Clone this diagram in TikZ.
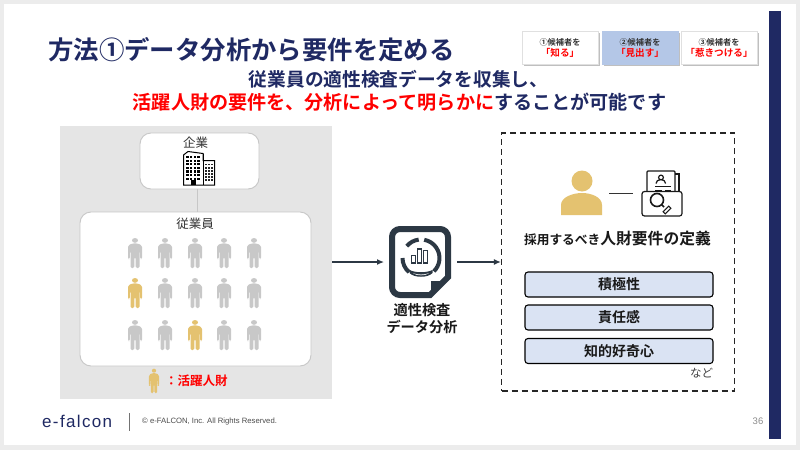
\documentclass[tikz,border=0pt]{standalone}
\usepackage{fontspec}
\setmainfont{Noto Sans CJK JP}
\newfontfamily\jb{Noto Sans CJK JP Bold}
\newfontfamily\lat{Liberation Sans}
\usetikzlibrary{arrows.meta}
\definecolor{navy}{RGB}{31,41,99}
\definecolor{pgray}{RGB}{200,200,200}
\definecolor{pgold}{RGB}{228,194,112}
\definecolor{iconc}{RGB}{44,56,68}
\definecolor{panel}{RGB}{229,229,229}
\definecolor{outer}{RGB}{236,236,236}
\definecolor{lblue}{RGB}{218,227,243}
\definecolor{tabblue}{RGB}{180,199,231}
\newcommand{\fs}[1]{\fontsize{#1}{#1}\selectfont}
\tikzset{
 x=1pt,y=-1pt,
 card/.style={draw=black!22,line width=.9pt,fill=white,rounded corners=11pt},
 tab/.style={fill=white,draw=black!12,line width=.5pt,minimum width=76pt,minimum height=33pt,inner sep=0pt,align=center,
   preaction={draw=none,fill=black!25,transform canvas={shift={(1.5pt,-1.5pt)}}}},
 req/.style={draw=black,line width=1.1pt,fill=lblue,rounded corners=3pt,minimum width=188pt,minimum height=25pt,inner sep=0pt,font=\jb\fs{14},text=black!90},
 flow/.style={draw=iconc,line width=1.3pt,-{Latex[length=7pt,width=6pt]}},
 txt/.style={inner sep=0pt,align=center},
 person/.pic={
   \fill[pic actions] (0,-12.6) ellipse (3pt and 2.4pt);
   \fill[pic actions] [rounded corners=1.5pt] (-2.5,-9.6) -- (2.5,-9.6) -- (7,-7.5) -- (7,6) -- (5.2,6) -- (5,-2) -- (4.5,-2) -- (4.5,15) -- (0.6,15) -- (0.6,4) -- (-.6,4) -- (-.6,15) -- (-4.5,15) -- (-4.5,-2) -- (-5,-2) -- (-5.2,6) -- (-7,6) -- (-7,-7.5) -- cycle;
 }
}
\begin{document}
\begin{tikzpicture}
\useasboundingbox (0,0) rectangle (800,450);
\fill[outer] (0,0) rectangle (800,450);
\fill[white] (4,4) rectangle (796,445);
\fill[navy] (769,11) rectangle (781,439);
% title
\node[txt,anchor=west,text=navy,font=\jb\fs{25.4}] (title) at (48,50) {方法①データ分析から要件を定める};
\node[txt,text=navy,font=\jb\fs{18.7}] (sub1) at (398.5,79) {従業員の適性検査データを収集し、};
\node[txt,font=\jb\fs{19.1},text=navy] (sub2) at (399.5,102) {\textcolor{red}{活躍人財の要件を、分析によって明らかに}することが可能です};
% tabs
\node[tab] (t1) at (560,47.5) {{\jb\fs{8.2}\textcolor{black!80}{①候補者を}}\\[-1pt]{\jb\fs{9.6}\textcolor{red}{「知る」}}};
\node[tab,fill=tabblue,draw=tabblue] (t2) at (640,47.5) {{\jb\fs{8.2}\textcolor{black!80}{②候補者を}}\\[-1pt]{\jb\fs{9.6}\textcolor{red}{「見出す」}}};
\node[tab] (t3) at (719,47.5) {{\jb\fs{8.2}\textcolor{black!80}{③候補者を}}\\[-1pt]{\jb\fs{9.6}\textcolor{red}{「惹きつける」}}};
% left panel
\fill[panel] (60,126) rectangle (332,399);
\node[card,minimum width=119pt,minimum height=56pt,inner sep=0pt] (co) at (199.5,161) {};
\node[card,minimum width=231pt,minimum height=154pt,inner sep=0pt] (emp) at (195.5,289) {};
\coordinate (jn) at (197,200);
\draw[black!22,line width=.9pt] (jn |- co.south) -- (jn |- emp.north);
\node[txt,font=\fs{12.5},text=black!80] (cot) at (195.5,142.5) {企業};
\node[txt,font=\fs{12.5},text=black!80] (empt) at (195,224) {従業員};
% building
\draw[black,fill=white,line width=1pt] (183.5,155) -- (183.5,185) -- (214.5,185) -- (214.5,160.5) -- (203,160.5) -- (203,153.5) -- (188,151.5) -- cycle;
\draw[black,line width=1pt] (203,153.5) -- (203,185);
\foreach \xx in {186.3,190,193.7,197.4} \foreach \yy in {156,159.6,163.2,166.8,170.4,174,177.6}{\fill[black] (\xx,\yy) rectangle +(2.4,2.2);}
\foreach \xx in {205.3,208.2,211.1} \foreach \yy in {163.5,166.6,169.7,172.8,175.9,179}{\fill[black!85] (\xx,\yy) rectangle +(1.9,1.9);}
\fill[black] (190.5,180) rectangle (196,185);
% people
\foreach \c/\xx/\yy in {pgray/135/253,pgray/165/253,pgray/195/253,pgray/224/253,pgray/254/253,
 pgold/135/293,pgray/165/293,pgray/195/293,pgray/224/293,pgray/254/293,
 pgray/135/335,pgray/165/335,pgold/195/335,pgray/224/335,pgray/254/335}{
 \pic[fill=\c] at (\xx,\yy) {person};
}
\pic[fill=pgold,xscale=.72,yscale=.82] at (154,381) {person};
\node[txt,anchor=west,text=red,font=\jb\fs{12.5}] (lg) at (165,381) {：活躍人財};
% middle icon
\coordinate (a1) at (332,262);
\draw[iconc,line width=6pt,fill=white,rounded corners=8pt] (392,229) -- (448,229) [sharp corners] -- (448,277) -- (430,295) [rounded corners=8pt] -- (392,295) -- cycle;
\node[minimum width=62pt,minimum height=72pt,inner sep=0pt] (ic) at (420,262) {};
\fill[iconc] (431,281) -- (446,281) -- (431,296) -- cycle;
\draw[iconc,line width=4pt] (402.5,258) arc (-180:-230:18.5);
\draw[iconc,line width=4pt] (406.8,246.1) arc (-140:-97:18.5);
\draw[iconc,line width=4pt] (424.2,239.8) arc (-80:46:18.5);
\draw[iconc,line width=1.1pt] (411.5,255.5) rectangle (415.5,263);
\draw[iconc,line width=1.1pt] (417.5,249) rectangle (421.5,263);
\draw[iconc,line width=1.1pt] (423.5,250.5) rectangle (427.5,263);
\fill[iconc] (409.5,270) .. controls (416,273) and (426,273) .. (432.5,270) -- (432.5,273) .. controls (428,278) and (414,278) .. (409.5,273) -- cycle;
\fill[white] (413,273.2) .. controls (418,275) and (424,275) .. (429,273.2) .. controls (425,276) and (417,276) .. (413,273.2) -- cycle;
\node[txt,font=\jb\fs{14.2},text=black!90] (ict) at (422,318.5) {適性検査\\[2.6pt]データ分析};
\draw[flow] (a1) -- (384,262);
% right
\node[draw=black!85,dash pattern=on 6pt off 4pt,line width=1.2pt,minimum width=233pt,minimum height=258pt,inner sep=0pt] (box) at (618,262) {};
\coordinate (a2) at (457,262);
\draw[flow] (a2) -- (box.west);
% person icon
\fill[pgold] (582,181) circle (10.5pt);
\fill[pgold] (561,215) -- (561,205) .. controls (561,197) and (573,193) .. (582,193) .. controls (591,193) and (602,197) .. (602,205) -- (602,215) -- cycle;
\draw[black!80,line width=1.2pt] (609,193.5) -- (633,193.5);
% file icon
\begin{scope}[line width=1.2pt,black!90]
\draw[rounded corners=1pt] (647,191) -- (647,171) -- (675,171) -- (675,191);
\draw (675,174) -- (679,174) -- (679,191);
\draw (661,177.5) circle (2.4pt) (656,183.5) arc (-180:0:4.8 and 4);
\draw[line width=.9pt] (655,186.5) -- (671,186.5) (655,190) -- (662,190) (665,190) -- (671,190);
\draw[fill=white,rounded corners=2.5pt] (642,191.5) rectangle (682,216);
\draw[line width=1.5pt] (661.5,204.5) -- (664,207);
\draw[fill=white,line width=1.6pt] (657,200) circle (6.5pt);
\draw[line width=1pt,fill=white,rotate around={45:(667,210)}] (663,208.5) rectangle (671,211.5);
\end{scope}
\node[txt,font=\jb\fs{12.7},text=black!90] (def) at (617.5,239) {採用するべき{\fs{15.8}人財要件の定義}};
\node[req] (r1) at (619,284.5) {積極性};
\node[req] (r2) at (619,317.5) {責任感};
\node[req] (r3) at (619,351) {知的好奇心};
\node[txt,font=\fs{11.5},text=black!75] (etc) at (701.5,373) {など};
% footer
\node[txt,anchor=west,text=navy,font=\lat\fs{17}] (logo) at (42,421) {\addfontfeature{LetterSpace=8}e-falcon};
\draw[black!55,line width=.8pt] (129,413) -- (129,431);
\node[txt,anchor=west,font=\lat\fs{7.7},text=black!70] (cr) at (142,421.5) {© e-FALCON, Inc. All Rights Reserved.};
\node[txt,font=\lat\fs{9.5},text=black!45] (pg) at (758,421) {36};
\end{tikzpicture}
\end{document}
